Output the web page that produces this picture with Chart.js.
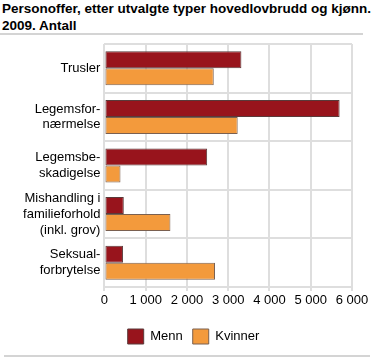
<!DOCTYPE html>
<html><head><meta charset="utf-8">
<script src="https://cdn.jsdelivr.net/npm/chart.js@4"></script>
<style>
html,body{margin:0;padding:0;background:#fff;}
#wrap{position:relative;width:374px;height:358px;overflow:hidden;}
#title{position:absolute;left:2px;top:0px;font:bold 13.5px "Liberation Sans",Arial,sans-serif;line-height:17px;color:#000;white-space:nowrap;}
#sep1{position:absolute;left:0;top:33px;width:363px;height:2px;background:#d4d4d4;}
#sep2{position:absolute;left:4px;top:355px;width:366px;height:2px;background:#d4d4d4;}
canvas{position:absolute;left:0;top:0;}
</style></head><body>
<div id="wrap">
<div id="title">Personoffer, etter utvalgte typer hovedlovbrudd og kjønn.<br>2009. Antall</div>
<div id="sep1"></div>
<div id="sep2"></div>
<canvas id="c" width="374" height="358"></canvas>
</div>
<script>
const categories = [["Trusler"],["Legemsfor-","nærmelse"],["Legemsbe-","skadigelse"],["Mishandling i","familieforhold","(inkl. grov)"],["Seksual-","forbrytelse"]];
const menn = [3320, 5700, 2490, 470, 450];
const kvinner = [2650, 3230, 390, 1600, 2680];
const xTicks = [0,1000,2000,3000,4000,5000,6000];

const legendShift = {
  id:'legendShift',
  afterLayout(chart){
    const l = chart.legend;
    if(l){ l.left += 17.5; l.right += 17.5; l.top += 2; l.bottom += 2; }
  }
};

new Chart(document.getElementById('c'), {
  type: 'bar',
  data: {
    labels: categories,
    datasets: [
      {label:'Menn', data:menn, backgroundColor:'#98141c', borderColor:'#5a3a3a', borderWidth:1, borderSkipped:false, categoryPercentage:0.7, barPercentage:1.0},
      {label:'Kvinner', data:kvinner, backgroundColor:'#f39a3c', borderColor:'#7a6050', borderWidth:1, borderSkipped:false, categoryPercentage:0.7, barPercentage:1.0}
    ]
  },
  plugins:[legendShift],
  options: {
    indexAxis:'y',
    responsive:false,
    animation:false,
    devicePixelRatio:1,
    layout:{padding:{left:0,right:22,top:44,bottom:6}},
    plugins:{
      legend:{position:'bottom',labels:{boxWidth:16,boxHeight:15,padding:10,color:'#000',font:{family:'"Liberation Sans", Arial, sans-serif',size:13}}},
      tooltip:{enabled:false}
    },
    scales:{
      x:{
        min:0,max:6000,
        afterBuildTicks:(s)=>{s.ticks = xTicks.map(v=>({value:v}));},
        afterFit:(s)=>{s.height=30;},
        grid:{color:'#dedede',lineWidth:2,tickLength:4},
        border:{display:false},
        ticks:{color:'#000',padding:2,maxRotation:0,autoSkip:false,font:{family:'"Liberation Sans", Arial, sans-serif',size:13},
          callback:(v)=>String(v).replace(/\B(?=(\d{3})+(?!\d))/g,'\u00a0')}
      },
      y:{
        afterFit:(s)=>{s.width=104.4;},
        grid:{color:'#dedede',lineWidth:2,offset:true,tickLength:0},
        border:{display:false},
        ticks:{color:'#000',padding:4,autoSkip:false,font:{family:'"Liberation Sans", Arial, sans-serif',size:13,lineHeight:1.22}}
      }
    }
  }
});
</script>
</body></html>
